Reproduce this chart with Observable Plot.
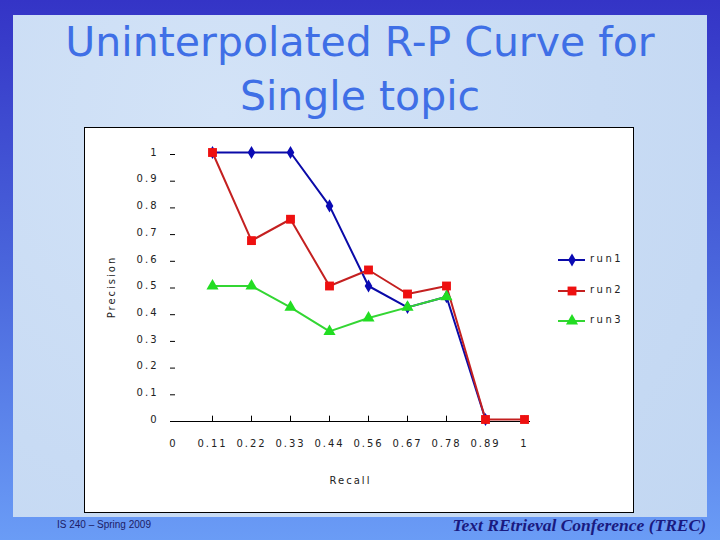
<!DOCTYPE html>
<html>
<head>
<meta charset="utf-8">
<script src="https://cdn.jsdelivr.net/npm/d3@7"></script>
<script src="https://cdn.jsdelivr.net/npm/@observablehq/plot@0.6"></script>
<style>
  html, body { margin:0; padding:0; }
  body { width:720px; height:540px; position:relative; overflow:hidden;
         background: linear-gradient(#3434c6 0%, #4a66dc 50%, #6a9cf6 100%); font-family:"DejaVu Sans", sans-serif; }
  #panel { position:absolute; left:13px; top:15px; width:694px; height:502px;
           background: radial-gradient(circle at 30% 20%, #d3e3f7 0%, #c8dbf4 60%, #c2d7f2 100%); }
  #title { position:absolute; left:0; top:15px; width:720px; text-align:center; color:#3f6fe6;
           font-family:"DejaVu Sans", sans-serif; font-size:41px; line-height:54px; letter-spacing:0px; }
  #chart { position:absolute; left:85px; top:128px; width:548px; height:384px; background:#fff;
           outline:1px solid #000; }
  #chart svg { display:block; }
  #legend { position:absolute; left:557px; top:250px; }
  .lg { position:absolute; left:0; height:20px; width:80px; }
  .lg span { position:absolute; left:33px; top:3px; font-size:10px; letter-spacing:2.5px; color:#222; }
  #foot1 { position:absolute; left:57px; top:519px; font-family:"Liberation Sans", sans-serif; font-size:10px; color:#1c1c66; }
  #foot2 { position:absolute; right:14px; top:515px; font-family:"Liberation Serif", serif; font-style:italic; font-weight:bold; font-size:17.5px; color:#1a1a80; }
</style>
</head>
<body>
<div id="panel"></div>
<div id="title">Uninterpolated R-P Curve for<br>Single topic</div>
<div id="chart"></div>
<div id="legend"></div>
<div id="foot1">IS 240 – Spring 2009</div>
<div id="foot2">Text REtrieval Conference (TREC)</div>
<script>
const recall = ["0","0.11","0.22","0.33","0.44","0.56","0.67","0.78","0.89","1"];
const run1 = [null, 1, 1, 1, 0.8, 0.5, 0.42, 0.46, 0, null];
const run2 = [null, 1, 0.67, 0.75, 0.5, 0.56, 0.47, 0.5, 0, 0];
const run3 = [null, 0.5, 0.5, 0.42, 0.33, 0.38, 0.42, 0.46, null, null];
const yTicks = [0, 0.1, 0.2, 0.3, 0.4, 0.5, 0.6, 0.7, 0.8, 0.9, 1];
const seriesNames = ["run1", "run2", "run3"];
const lineColors = ["#0a0aa8", "#c42020", "#33d633"];
const dotColors = ["#0a0ab4", "#ee1010", "#22dd22"];
const symbols = ["diamond", "square", "triangle"];
const dotR = [4, 5, 4.5];

const allRuns = [run1, run2, run3];
const rows = [];
allRuns.forEach((vals, i) => vals.forEach((v, j) => {
  if (v !== null) rows.push({series: seriesNames[i], recall: recall[j], precision: v});
}));

const marks = [
  Plot.ruleY([0], {dy: 2, stroke: "#000"}),
  Plot.ruleX(recall.slice(1), {x: d => d, y1: 0, y2: 0.02, dy: 2, stroke: "#000"}),
  Plot.tickY(yTicks, {y: d => d, insetRight: 355, dy: 2, stroke: "#000"}),
  Plot.axisY({ticks: yTicks, tickSize: 0, tickPadding: 12, tickFormat: d => String(d),
              fontSize: 10, fill: "#222", label: "Precision", labelAnchor: "center", labelOffset: 63, labelArrow: "none"}),
  Plot.axisX({tickSize: 0, tickPadding: 18, fontSize: 10, fill: "#222",
              label: "Recall", labelAnchor: "center", labelOffset: 62, labelArrow: "none"})
];
seriesNames.forEach((s, i) => {
  const data = rows.filter(r => r.series === s);
  marks.push(Plot.line(data, {x: "recall", y: "precision", stroke: lineColors[i], strokeWidth: 2}));
});
seriesNames.forEach((s, i) => {
  const data = rows.filter(r => r.series === s);
  marks.push(Plot.dot(data, {x: "recall", y: "precision", symbol: () => symbols[i], fill: dotColors[i], stroke: "none", r: dotR[i]}));
});

const chart = Plot.plot({
  width: 548, height: 384,
  marginLeft: 85, marginRight: 103, marginTop: 24, marginBottom: 91,
  style: {fontFamily: "DejaVu Sans, sans-serif", fontSize: "10px", color: "#222", background: "#fff", overflow: "visible", letterSpacing: "2px"},
  x: {type: "point", domain: recall, range: [88, 439], padding: 0},
  y: {domain: [0, 1], range: [291, 24]},
  symbol: {type: "identity"},
  marks
});
document.getElementById("chart").appendChild(chart);

// legend
const legend = document.getElementById("legend");
seriesNames.forEach((s, i) => {
  const div = document.createElement("div");
  div.className = "lg";
  div.style.top = (i * 30.5) + "px";
  const sym = d3.symbol().type({diamond: d3.symbolDiamond, square: d3.symbolSquare, triangle: d3.symbolTriangle}[symbols[i]]).size(Math.PI * dotR[i] * dotR[i])();
  div.innerHTML = `<svg width="32" height="20" style="position:absolute;left:0;top:0">
    <line x1="1" x2="28" y1="10" y2="10" stroke="${lineColors[i]}" stroke-width="2"/>
    <path d="${sym}" transform="translate(15,10)" fill="${dotColors[i]}"/></svg><span>${s}</span>`;
  legend.appendChild(div);
});
</script>
</body>
</html>
